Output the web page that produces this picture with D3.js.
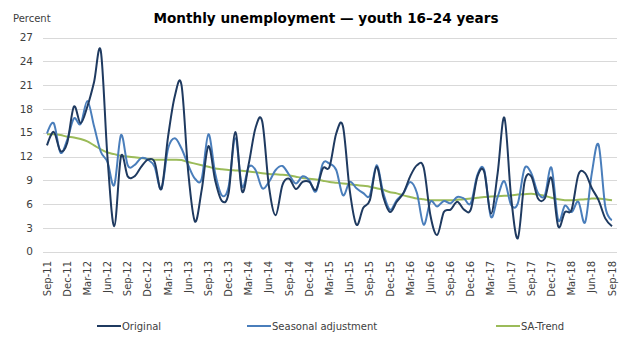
<!DOCTYPE html>
<html>
<head>
<meta charset="utf-8">
<script src="https://cdn.jsdelivr.net/npm/d3@7"></script>
<style>
  html, body { margin: 0; padding: 0; background: #fff; }
  svg { display: block; font-family: "DejaVu Sans", Verdana, sans-serif; }
</style>
</head>
<body>
<script>
// monthly observations, Sep 2011 .. Sep 2018
const months = d3.utcMonth.range(new Date(Date.UTC(2011, 8, 1)), new Date(Date.UTC(2018, 9, 1)));

const original = [
  13.4, 15.1, 12.7, 13.7, 18.3, 16.2, 18.3, 21.4, 25.3, 11.8, 3.2, 12.0,
  9.5, 9.5, 10.7, 11.6, 11.3, 7.9, 14.5, 19.6, 21.0, 10.0, 3.8, 7.8,
  13.3, 9.0, 6.4, 7.4, 15.1, 7.6, 11.1, 15.6, 16.4, 8.2, 4.6, 8.4,
  9.2, 7.9, 8.8, 8.8, 7.8, 10.5, 10.7, 14.9, 15.8, 7.8, 3.4, 5.5,
  6.5, 10.7, 6.9, 5.0, 6.3, 7.4, 9.5, 10.9, 10.6, 4.6, 2.1, 5.0,
  5.3, 6.3, 5.3, 5.3, 9.5, 10.1, 4.8, 9.9, 16.9, 6.9, 1.7, 8.8,
  9.5, 6.7, 6.7, 9.3, 3.2, 5.0, 5.3, 9.7, 9.9, 8.0, 6.5, 4.2,
  3.2
];

const seasonal = [
  14.9, 16.2, 12.5, 14.1, 16.8, 16.1, 19.0, 15.8, 12.6, 11.3, 8.4, 14.7,
  10.9, 10.9, 11.8, 11.6, 10.7, 7.9, 13.0, 14.3, 13.0, 10.9, 9.2, 9.2,
  14.8, 9.9, 7.1, 8.2, 14.3, 8.2, 10.7, 10.3, 8.0, 8.8, 10.3, 10.8,
  9.7, 8.6, 9.5, 9.0, 7.6, 11.1, 11.1, 10.3, 7.1, 8.8, 8.0, 7.4,
  7.1, 10.9, 7.4, 5.3, 6.5, 7.4, 8.8, 7.4, 3.4, 6.3, 5.7, 6.4,
  6.1, 6.9, 6.7, 6.1, 9.7, 10.3, 4.4, 6.9, 8.9, 5.9, 6.1, 10.5,
  9.9, 7.4, 7.1, 10.6, 4.0, 5.8, 5.0, 6.3, 3.7, 9.9, 13.5, 5.7,
  4.0
];

const trend = [
  14.8, 14.8, 14.7, 14.5, 14.4, 14.2, 13.9, 13.4, 12.9, 12.5, 12.3, 12.1,
  12.0, 11.9, 11.8, 11.7, 11.6, 11.6, 11.6, 11.6, 11.55, 11.3, 11.1, 10.9,
  10.7, 10.5, 10.4, 10.3, 10.25, 10.2, 10.1, 10.0, 9.9, 9.8, 9.75, 9.7,
  9.6, 9.45, 9.3, 9.2, 9.1, 8.95, 8.8, 8.7, 8.6, 8.5, 8.4, 8.3,
  8.2, 8.0, 7.8, 7.5, 7.35, 7.1, 6.9, 6.7, 6.6, 6.5, 6.5, 6.5,
  6.5, 6.55, 6.6, 6.7, 6.8, 6.9, 6.95, 7.0, 7.05, 7.1, 7.2, 7.25,
  7.3, 7.2, 7.05, 6.8, 6.6, 6.5, 6.5, 6.55, 6.6, 6.7, 6.7, 6.6,
  6.5
];

const yTicks = [0, 3, 6, 9, 12, 15, 18, 21, 24, 27];

const series = [
  { name: "Original", values: original, color: "#1f3a60" },
  { name: "Seasonal adjustment", values: seasonal, color: "#4a7ebb" },
  { name: "SA-Trend", values: trend, color: "#9bbb59" }
];

const width = 642, height = 340;
const fmt = d3.utcFormat("%b-%y");

const svg = d3.select("body").append("svg")
  .attr("width", width)
  .attr("height", height);

const x = d3.scaleLinear().domain([0, months.length - 1]).range([47, 612]);
const y = d3.scaleLinear().domain([0, 27]).range([251.7, 37.5]);

// horizontal gridlines
svg.append("g")
  .selectAll("line")
  .data(yTicks)
  .join("line")
  .attr("x1", 43).attr("x2", 617)
  .attr("y1", d => Math.round(y(d)) + 0.5)
  .attr("y2", d => Math.round(y(d)) + 0.5)
  .attr("stroke", "#d9d9d9")
  .attr("stroke-width", 1);

// y axis labels
svg.append("g")
  .selectAll("text")
  .data(yTicks)
  .join("text")
  .attr("x", 33)
  .attr("y", d => y(d))
  .attr("dy", "0.35em")
  .attr("text-anchor", "end")
  .attr("font-size", 10.5)
  .attr("fill", "#404040")
  .text(d => d);

// x labels every quarter, rotated
const tickIdx = d3.range(0, months.length, 3);
svg.append("g")
  .selectAll("text")
  .data(tickIdx)
  .join("text")
  .attr("transform", i => `translate(${x(i)},261) rotate(-90)`)
  .attr("dy", "0.35em")
  .attr("text-anchor", "end")
  .attr("font-size", 10)
  .attr("fill", "#404040")
  .text(i => fmt(months[i]));

const line = d3.line()
  .x((d, i) => x(i))
  .y(d => y(d))
  .curve(d3.curveCardinal.tension(0));

// draw trend first, then seasonal, original on top
svg.append("g")
  .selectAll("path")
  .data([series[2], series[1], series[0]])
  .join("path")
  .attr("d", s => line(s.values))
  .attr("fill", "none")
  .attr("stroke", s => s.color)
  .attr("stroke-width", 2)
  .attr("stroke-linejoin", "round");

svg.append("text")
  .attr("x", 326).attr("y", 23)
  .attr("text-anchor", "middle")
  .attr("font-size", 13.6)
  .attr("font-weight", "bold")
  .attr("fill", "#000")
  .text("Monthly unemployment \u2014 youth 16\u201324 years");

svg.append("text")
  .attr("x", 13).attr("y", 22)
  .attr("font-size", 10)
  .attr("fill", "#404040")
  .text("Percent");

// legend
const legendX = [97, 247, 496];
const lg = svg.append("g")
  .selectAll("g")
  .data(series)
  .join("g")
  .attr("transform", (s, i) => `translate(${legendX[i]},326)`);
lg.append("line")
  .attr("x1", 0).attr("x2", 24)
  .attr("stroke", s => s.color)
  .attr("stroke-width", 2);
lg.append("text")
  .attr("x", 25)
  .attr("dy", "0.35em")
  .attr("font-size", 10)
  .attr("fill", "#404040")
  .text(s => s.name);
</script>
</body>
</html>
